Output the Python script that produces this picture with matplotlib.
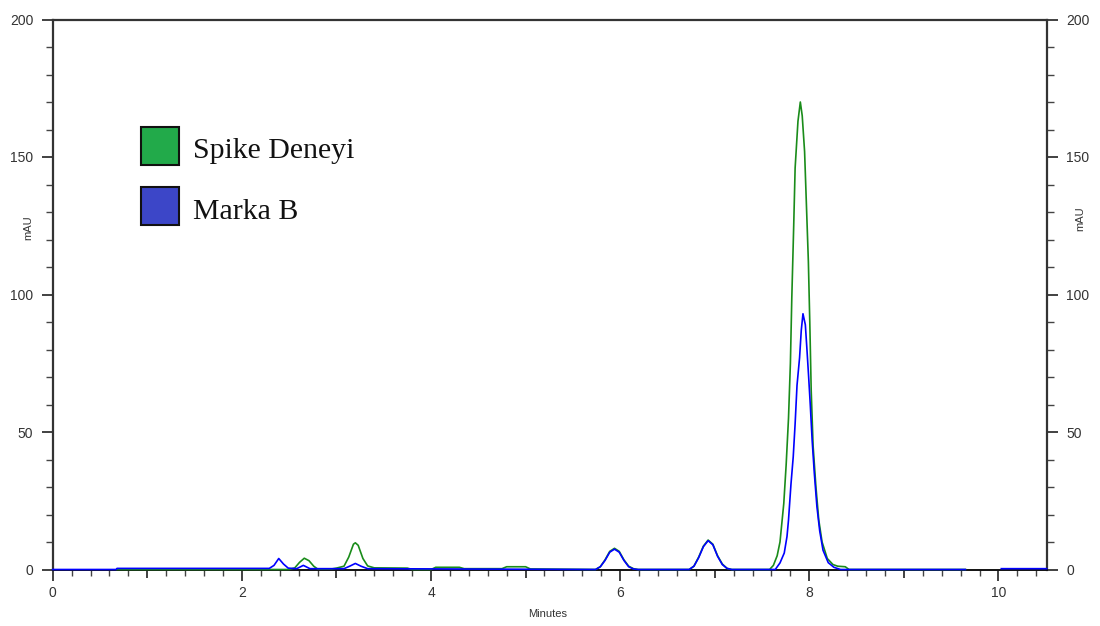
import numpy as np
import matplotlib
matplotlib.use("Agg")
import matplotlib.pyplot as plt
from matplotlib.ticker import MultipleLocator, FixedLocator
from matplotlib.patches import Rectangle

# ---- data ----
spike_t = [0.68, 1.0, 2.5, 2.56, 2.61, 2.66, 2.71, 2.76, 2.8, 2.95, 3.0, 3.08, 3.13, 3.18, 3.2,
           3.23, 3.28, 3.33, 3.4, 3.75, 3.8, 4.0, 4.05, 4.3, 4.35, 4.75, 4.8, 5.0, 5.05,
           5.74, 5.79, 5.84, 5.89, 5.94, 5.99, 6.04, 6.09, 6.14, 6.19,
           6.73, 6.78, 6.83, 6.88, 6.93, 6.98, 7.03, 7.08, 7.13, 7.18,
           7.58, 7.62, 7.66, 7.69, 7.73, 7.755, 7.78, 7.80, 7.815, 7.835, 7.85, 7.88, 7.905,
           7.925, 7.95, 7.97, 7.99, 8.005, 8.02, 8.04, 8.07, 8.10, 8.135, 8.19, 8.25, 8.3,
           8.38, 8.42, 9.65]
spike_v = [0.0, 0.0, 0.0, 0.6, 2.6, 4.1, 3.2, 1.2, 0.2, 0.2, 0.5, 1.2, 4.5, 9.2, 9.7,
           8.8, 4.0, 1.3, 0.6, 0.5, 0.0, 0.0, 0.8, 0.8, 0.3, 0.3, 1.0, 1.0, 0.2,
           0.0, 1.0, 3.5, 6.6, 7.7, 6.6, 3.5, 1.2, 0.3, 0.0,
           0.0, 1.2, 4.5, 8.5, 10.7, 9.2, 5.0, 2.0, 0.4, 0.0,
           0.0, 1.5, 5.0, 10.0, 24.0, 38.0, 55.0, 75.0, 99.0, 125.0, 146.0, 163.0, 170.0,
           165.0, 152.0, 132.0, 112.0, 90.0, 65.0, 45.0, 30.0, 18.0, 10.0, 4.0, 1.8, 1.2,
           1.0, 0.0, 0.0]

markab_t = [0.0, 0.67, 0.68, 2.29, 2.34, 2.39, 2.44, 2.49, 2.58, 2.65, 2.72, 3.08, 3.14, 3.2, 3.26, 3.33,
            5.74, 5.79, 5.84, 5.89, 5.94, 5.99, 6.04, 6.09, 6.14, 6.19,
            6.73, 6.78, 6.83, 6.88, 6.93, 6.98, 7.03, 7.08, 7.13, 7.18,
            7.64, 7.69, 7.735, 7.764, 7.78, 7.806, 7.83, 7.85, 7.87, 7.897, 7.915, 7.933,
            7.958, 7.975, 7.993, 8.01, 8.03, 8.053, 8.08, 8.11, 8.145, 8.20, 8.26, 8.33,
            9.65, 9.66, 10.02, 10.03, 10.51]
markab_v = [0.0, 0.0, 0.4, 0.4, 1.5, 4.0, 2.0, 0.5, 0.3, 1.5, 0.3, 0.3, 1.2, 2.2, 1.2, 0.3,
            0.0, 1.0, 3.3, 6.3, 7.4, 6.3, 3.3, 1.0, 0.2, 0.0,
            0.0, 1.2, 4.3, 8.3, 10.5, 9.0, 4.8, 1.8, 0.4, 0.0,
            0.0, 2.4, 6.0, 12.0, 18.0, 31.0, 41.0, 53.0, 67.0, 77.0, 87.0, 93.0,
            89.0, 80.0, 70.0, 60.0, 47.0, 35.0, 23.0, 14.0, 7.0, 2.5, 0.8, 0.0,
            0.0, np.nan, np.nan, 0.3, 0.3]

series_names = ["Spike Deneyi", "Marka B"]
line_colors = ["#1a8c1a", "#0000ff"]
swatch_colors = ["#22aa4a", "#3c46c8"]

x_major = [0, 2, 4, 6, 8, 10]
y_major = [0, 50, 100, 150, 200]

# ---- figure ----
fig = plt.figure(figsize=(11, 6.26), dpi=100)
ax = fig.add_axes([52.7/1100, 1 - 569.5/626, 994/1100, 550/626])

ax.plot(spike_t, spike_v, color=line_colors[0], lw=1.2, zorder=3, clip_on=False)
ax.plot(markab_t, markab_v, color=line_colors[1], lw=1.2, zorder=4, clip_on=False)

ax.set_xlim(0, 10.51)
ax.set_ylim(0, 200)

for s in ["left", "top", "right"]:
    ax.spines[s].set_color("#333333")
    ax.spines[s].set_linewidth(1.6)
ax.spines["bottom"].set_color("#111111")
ax.spines["bottom"].set_linewidth(1.4)

# x ticks: all integers major, label only even ones
ax.xaxis.set_major_locator(FixedLocator(list(range(0, 11))))
ax.set_xticklabels([str(i) if i in x_major else "" for i in range(0, 11)])
ax.xaxis.set_minor_locator(MultipleLocator(0.2))
ax.tick_params(axis="x", which="major", direction="out", length=8, width=1.3,
               color="#333333", labelsize=10, labelcolor="#333333", pad=4)
ax.tick_params(axis="x", which="minor", direction="out", length=4, width=1.0, color="#444444")
for i, t in enumerate(ax.xaxis.get_major_ticks()):
    if i % 2 == 1:
        t.tick1line.set_markersize(6)

ax.yaxis.set_major_locator(FixedLocator(y_major))
ax.yaxis.set_minor_locator(MultipleLocator(10))
ax.tick_params(axis="y", which="both", direction="out", left=True, right=True,
               labelleft=True, labelright=True)
ax.tick_params(axis="y", which="major", length=8, width=1.3, color="#333333",
               labelsize=10, labelcolor="#333333", pad=6)
ax.tick_params(axis="y", which="minor", length=5, width=1.0, color="#444444")

for lab in ax.get_xticklabels() + ax.get_yticklabels():
    lab.set_fontfamily("Liberation Sans")

fig.text(548/1100, 1 - 614/626, "Minutes", ha="center", va="center",
         fontsize=8, family="Liberation Sans", color="#333333")
fig.text(28/1100, 1 - 228/626, "mAU", ha="center", va="center", rotation=90,
         fontsize=8, family="Liberation Sans", color="#333333")
fig.text(1080/1100, 1 - 219/626, "mAU", ha="center", va="center", rotation=90,
         fontsize=8, family="Liberation Sans", color="#333333")

# legend
sw = 38.5
baselines = [158, 219]
for i, (name, col) in enumerate(zip(series_names, swatch_colors)):
    top = 126.7 + i * 60
    fig.patches.append(Rectangle((140.7/1100, 1 - (top + sw)/626), sw/1100, sw/626,
                                 transform=fig.transFigure, facecolor=col,
                                 edgecolor="#111111", lw=1.5))
    fig.text(193/1100, 1 - baselines[i]/626, name, ha="left", va="baseline",
             fontsize=21.5, family="Liberation Serif", color="#111111")

fig.savefig("out.png", dpi=100)
